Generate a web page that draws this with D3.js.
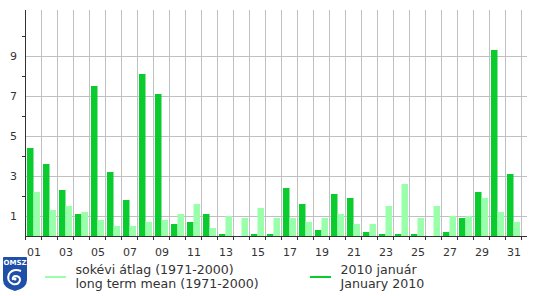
<!DOCTYPE html>
<html lang="hu">
<head>
<meta charset="utf-8">
<title>Csapadék 2010 január</title>
<style>
  body { margin: 0; background: #fff; }
  svg text { font-family: "DejaVu Sans", Verdana, sans-serif; fill: #333; }
</style>
</head>
<body>
<script src="https://cdn.jsdelivr.net/npm/d3@7"></script>
<script>
// data
var days = d3.range(1, 32).map(function(d) { return d < 10 ? "0" + d : "" + d; });
var jan2010 = [4.4, 3.6, 2.3, 1.1, 7.5, 3.2, 1.8, 8.1, 7.1, 0.6,
               0.7, 1.1, 0.1, 0.0, 0.1, 0.1, 2.4, 1.6, 0.3, 2.1,
               1.9, 0.2, 0.1, 0.1, 0.1, 0.0, 0.2, 0.9, 2.2, 9.3, 3.1];
var longMean = [2.2, 1.3, 1.5, 1.2, 0.8, 0.5, 0.5, 0.7, 0.8, 1.1,
                1.6, 0.4, 1.0, 0.9, 1.4, 0.9, 0.9, 0.7, 0.9, 1.1,
                0.6, 0.6, 1.5, 2.6, 0.9, 1.5, 1.0, 1.0, 1.9, 1.2, 0.7];
var yLabels = [1, 3, 5, 7, 9];
var yMinor = [2, 4, 6, 8, 10];
var seriesNames = ["jan2010", "mean"];
var legendHu = ["sokévi átlag (1971-2000)", "2010 január"];
var legendEn = ["long term mean (1971-2000)", "January 2010"];

var w = 536, h = 296;
var plotL = 25, plotR = 521, plotT = 10, plotB = 236;
var darkGreen = "#0acc2e", lightGreen = "#99ffaa", gridCol = "#c0c0c0", axisCol = "#333";

var svg = d3.select("body").append("svg")
    .attr("width", w)
    .attr("height", h);

// scales
var x = d3.scaleBand().domain(days).range([plotL, plotR]).padding(0);
var xs = d3.scaleBand().domain(seriesNames).range([2, 15]);
var y = d3.scaleLinear().domain([0, 11.3]).range([plotB, plotT]);

// grid
svg.append("g").selectAll("line")
    .data(days)
    .enter().append("line")
    .attr("x1", function(d) { return x(d) + 16.5; })
    .attr("x2", function(d) { return x(d) + 16.5; })
    .attr("y1", plotT)
    .attr("y2", plotB)
    .attr("stroke", gridCol);
svg.append("g").selectAll("line")
    .data(yLabels)
    .enter().append("line")
    .attr("x1", plotL)
    .attr("x2", 527)
    .attr("y1", function(d) { return Math.round(y(d)) + 0.5; })
    .attr("y2", function(d) { return Math.round(y(d)) + 0.5; })
    .attr("stroke", gridCol);

// bars
var g = svg.append("g");
g.selectAll("rect.obs")
    .data(jan2010)
    .enter().append("rect")
    .attr("class", "obs")
    .attr("x", function(d, i) { return x(days[i]) + xs("jan2010"); })
    .attr("width", xs.bandwidth())
    .attr("y", function(d) { return y(d); })
    .attr("height", function(d) { return plotB - y(d); })
    .attr("fill", darkGreen);
g.selectAll("rect.mean")
    .data(longMean)
    .enter().append("rect")
    .attr("class", "mean")
    .attr("x", function(d, i) { return x(days[i]) + xs("mean"); })
    .attr("width", xs.bandwidth())
    .attr("y", function(d) { return y(d); })
    .attr("height", function(d) { return plotB - y(d); })
    .attr("fill", lightGreen);

// y axis
svg.append("line")
    .attr("x1", plotL + 0.5).attr("x2", plotL + 0.5)
    .attr("y1", plotT).attr("y2", plotB + 1)
    .attr("stroke", axisCol);
svg.append("g").selectAll("line")
    .data(yMinor)
    .enter().append("line")
    .attr("x1", plotL - 3).attr("x2", plotL)
    .attr("y1", function(d) { return Math.round(y(d)) + 0.5; })
    .attr("y2", function(d) { return Math.round(y(d)) + 0.5; })
    .attr("stroke", axisCol);
svg.append("g").selectAll("text")
    .data(yLabels)
    .enter().append("text")
    .attr("x", 17)
    .attr("y", function(d) { return y(d) + 4; })
    .attr("text-anchor", "end")
    .attr("font-size", 11)
    .text(function(d) { return d; });

// x axis
svg.append("line")
    .attr("x1", plotL).attr("x2", 527)
    .attr("y1", plotB + 0.5).attr("y2", plotB + 0.5)
    .attr("stroke", axisCol);
svg.append("g").selectAll("line")
    .data(days)
    .enter().append("line")
    .attr("x1", function(d) { return x(d) + 0.5; })
    .attr("x2", function(d) { return x(d) + 0.5; })
    .attr("y1", plotB)
    .attr("y2", plotB + 4)
    .attr("stroke", axisCol);
svg.append("line")
    .attr("x1", plotR + 0.5).attr("x2", plotR + 0.5)
    .attr("y1", plotB).attr("y2", plotB + 4)
    .attr("stroke", axisCol);
svg.append("g").selectAll("text")
    .data(days.filter(function(d, i) { return i % 2 === 0; }))
    .enter().append("text")
    .attr("x", function(d) { return x(d) + x.bandwidth() / 2 + 1; })
    .attr("y", 256)
    .attr("text-anchor", "middle")
    .attr("font-size", 11)
    .text(function(d) { return d; });

// legend
var legX = [45, 310];
var legCols = [lightGreen, darkGreen];
legX.forEach(function(lx, i) {
    svg.append("line")
        .attr("x1", lx).attr("x2", lx + 21)
        .attr("y1", 277).attr("y2", 277)
        .attr("stroke", legCols[i])
        .attr("stroke-width", 2);
    svg.append("text")
        .attr("x", lx + 30.5).attr("y", 274)
        .attr("font-size", 12.6)
        .text(legendHu[i]);
    svg.append("text")
        .attr("x", lx + 30.5).attr("y", 288)
        .attr("font-size", 12.6)
        .text(legendEn[i]);
});

// OMSZ logo
var logo = svg.append("g").attr("transform", "translate(3,257)");
logo.append("path")
    .attr("d", "M1,0 H23 Q24,0 24,1 V23 Q24,31 12,34 Q0,31 0,23 V1 Q0,0 1,0 Z")
    .attr("fill", "#1f4fa8");
logo.append("text")
    .attr("x", 12).attr("y", 8)
    .attr("text-anchor", "middle")
    .attr("font-size", 7)
    .attr("font-weight", "bold")
    .style("fill", "#fff")
    .text("OMSZ");
logo.append("path")
    .attr("d", "M18,14 Q10,11 6,17 Q3,24 10,27 Q16,28 17,23 Q17,19 12,19 Q9,20 10,23")
    .attr("fill", "none")
    .attr("stroke", "#fff")
    .attr("stroke-width", 2);
logo.append("circle")
    .attr("cx", 12).attr("cy", 22).attr("r", 1.5)
    .attr("fill", "#fff");
</script>
</body>
</html>
